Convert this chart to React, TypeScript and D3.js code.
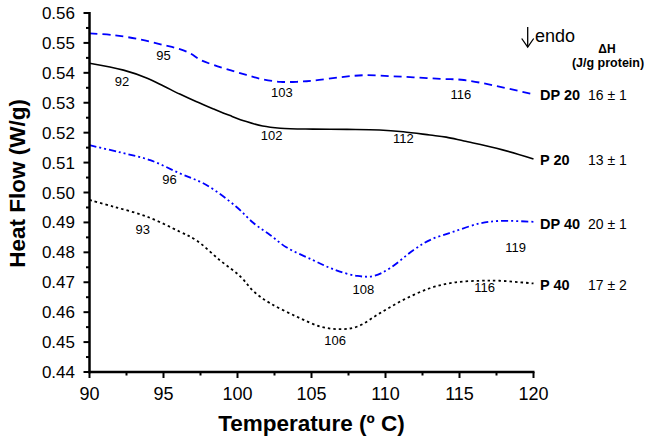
import React from "react";
import * as d3 from "d3";

const xTicks = [90, 95, 100, 105, 110, 115, 120];
const yTicks = [0.44, 0.45, 0.46, 0.47, 0.48, 0.49, 0.5, 0.51, 0.52, 0.53, 0.54, 0.55, 0.56];

const dp20: [number, number][] = [
  [90, 0.5532], [91.6, 0.5526], [93.4, 0.5512], [95.0, 0.5493], [96.1, 0.5479], [96.8, 0.5465],
  [97.5, 0.5443], [98.4, 0.5426], [99.5, 0.5409], [100.6, 0.5393], [101.7, 0.5378], [102.9, 0.537],
  [104.0, 0.537], [105.1, 0.5374], [106.9, 0.5385], [108.5, 0.5392], [110.3, 0.5389], [111.9, 0.5385],
  [113.7, 0.538], [115.3, 0.5376], [117.5, 0.5356], [120, 0.5328],
];
const p20: [number, number][] = [
  [90, 0.5432], [92.3, 0.5409], [93.9, 0.5382], [95.0, 0.5356], [96.1, 0.5329], [97.2, 0.5304],
  [98.4, 0.5279], [99.5, 0.5257], [100.6, 0.5237], [101.7, 0.5222], [102.9, 0.5215], [105.1, 0.5212],
  [107.4, 0.5211], [109.6, 0.5209], [111.2, 0.5203], [113.0, 0.5192], [114.1, 0.5185], [115.3, 0.5172],
  [117.5, 0.5148], [120, 0.5112],
];
const dp40: [number, number][] = [
  [90, 0.5158], [92.0, 0.5135], [94.1, 0.5108], [96.1, 0.5064], [97.9, 0.5025], [99.9, 0.4953],
  [101.1, 0.4897], [102.2, 0.4858], [103.3, 0.4817], [105.1, 0.4774], [106.5, 0.4743], [108.1, 0.4721],
  [109.2, 0.4721], [110.3, 0.4747], [111.9, 0.4808], [113.0, 0.4841], [114.6, 0.4869], [116.4, 0.4897],
  [117.7, 0.4905], [120, 0.4902],
];
const p40: [number, number][] = [
  [90, 0.4975], [91.6, 0.4953], [93.9, 0.4919], [96.1, 0.4869], [97.2, 0.4841], [98.8, 0.4774],
  [100.2, 0.4719], [101.1, 0.4669], [102.2, 0.463], [104.0, 0.4585], [105.6, 0.4552], [106.9, 0.4543],
  [108.1, 0.4552], [109.6, 0.4596], [111.2, 0.4641], [113.0, 0.468], [114.6, 0.4699], [116.4, 0.4705],
  [117.7, 0.4705], [120, 0.4696],
];

const seriesNames = ["DP 20", "P 20", "DP 40", "P 40"];
const deltaH = ["16 ± 1", "13 ± 1", "20 ± 1", "17 ± 2"];

// peak annotations: [temperature label, x position (°C), y value]
const peakLabels: [string, number, number][] = [
  ["95", 95.0, 0.5444],
  ["92", 92.2, 0.5357],
  ["103", 103.0, 0.5320],
  ["116", 115.1, 0.5313],
  ["102", 102.3, 0.5177],
  ["112", 111.2, 0.5164],
  ["96", 95.4, 0.5028],
  ["93", 93.6, 0.4860],
  ["108", 108.5, 0.4660],
  ["106", 106.6, 0.4490],
  ["116", 116.7, 0.4668],
  ["119", 118.8, 0.4801],
];

const FONT = "'Liberation Sans', Arial, Helvetica, sans-serif";

export default function App() {
  const x = d3.scaleLinear().domain([90, 120]).range([89.5, 533.5]);
  const y = d3.scaleLinear().domain([0.44, 0.56]).range([372, 13]);
  const line = d3
    .line<[number, number]>()
    .x((d) => x(d[0]))
    .y((d) => y(d[1]))
    .curve(d3.curveCatmullRom.alpha(0.5));

  const series = [
    { data: dp20, color: "#0000ff", dash: "8,5", w: 1.8 },
    { data: p20, color: "#000000", dash: "", w: 1.6 },
    { data: dp40, color: "#0000ff", dash: "7,3,2,3,2,3", w: 1.8 },
    { data: p40, color: "#000000", dash: "2.5,3", w: 1.8 },
  ];
  const labelBaselines = [100, 165, 229, 290];
  const xMinor = d3.range(92.5, 120, 5);
  const yMinor = d3.range(0.445, 0.56, 0.01);

  return (
    <svg
      width={646}
      height={444}
      style={{ position: "absolute", left: 0, top: 0, background: "#fff" }}
      fontFamily={FONT}
    >
      <rect width={646} height={444} fill="#fff" />
      {series.map((s, i) => (
        <path
          key={i}
          d={line(s.data) || ""}
          fill="none"
          stroke={s.color}
          strokeWidth={s.w}
          strokeDasharray={s.dash || undefined}
        />
      ))}
      {/* axes */}
      <line x1={x(90)} x2={x(90)} y1={y(0.56) - 1} y2={y(0.44) + 1.2} stroke="#000" strokeWidth={2.5} />
      <line x1={x(90) - 1.2} x2={x(120) + 1} y1={y(0.44)} y2={y(0.44)} stroke="#000" strokeWidth={2.5} />
      {yTicks.map((t) => (
        <g key={"y" + t}>
          <line x1={x(90) - 6} x2={x(90)} y1={y(t)} y2={y(t)} stroke="#000" strokeWidth={2} />
          <text x={75} y={y(t) + 6} textAnchor="end" fontSize={17} fill="#000">
            {t.toFixed(2)}
          </text>
        </g>
      ))}
      {yMinor.map((t) => (
        <line key={"ym" + t} x1={x(90) - 3.5} x2={x(90)} y1={y(t)} y2={y(t)} stroke="#000" strokeWidth={2} />
      ))}
      {xTicks.map((t) => (
        <g key={"x" + t}>
          <line x1={x(t)} x2={x(t)} y1={y(0.44)} y2={y(0.44) + 6} stroke="#000" strokeWidth={2} />
          <text x={x(t)} y={400} textAnchor="middle" fontSize={18} fill="#000">
            {t}
          </text>
        </g>
      ))}
      {xMinor.map((t) => (
        <line key={"xm" + t} x1={x(t)} x2={x(t)} y1={y(0.44)} y2={y(0.44) + 3.5} stroke="#000" strokeWidth={2} />
      ))}
      {/* axis titles */}
      <text x={311.5} y={431} textAnchor="middle" fontSize={22.5} fontWeight="bold" fill="#000">
        Temperature  (º C)
      </text>
      <text
        transform="translate(25,183.5) rotate(-90)"
        textAnchor="middle"
        fontSize={22.5}
        fontWeight="bold"
        fill="#000"
      >
        Heat Flow (W/g)
      </text>
      {/* peak labels */}
      {peakLabels.map(([lab, t, v], i) => (
        <text key={"p" + i} x={x(t)} y={y(v)} textAnchor="middle" fontSize={13} fill="#000">
          {lab}
        </text>
      ))}
      {/* right labels */}
      {seriesNames.map((n, i) => (
        <g key={"n" + i}>
          <text x={540} y={labelBaselines[i]} fontSize={14.5} fontWeight="bold" fill="#000">
            {n}
          </text>
          <text x={588} y={labelBaselines[i]} fontSize={14} fill="#000">
            {deltaH[i]}
          </text>
        </g>
      ))}
      {/* endo arrow */}
      <line x1={527.7} x2={527.7} y1={27} y2={47} stroke="#000" strokeWidth={1.3} />
      <polyline points="521.7,38.5 527.7,47 533.7,38.5" fill="none" stroke="#000" strokeWidth={1.3} />
      <text x={535} y={41.5} fontSize={18} fill="#000">
        endo
      </text>
      <text x={607} y={53.3} textAnchor="middle" fontSize={12} fontWeight="bold" fill="#000">
        ΔH
      </text>
      <text x={608} y={66.7} textAnchor="middle" fontSize={12.5} fontWeight="bold" fill="#000">
        (J/g protein)
      </text>
    </svg>
  );
}
